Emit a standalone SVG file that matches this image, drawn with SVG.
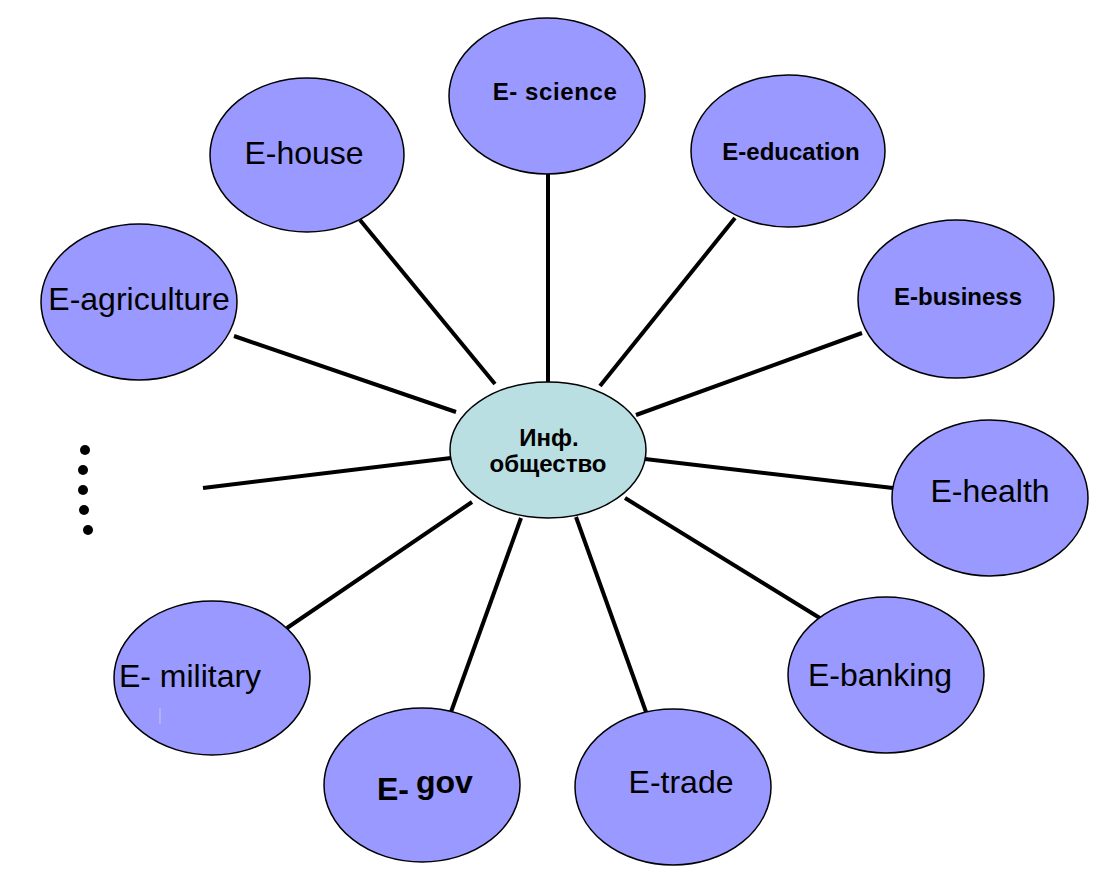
<svg xmlns="http://www.w3.org/2000/svg" width="1111" height="875" viewBox="0 0 1111 875">
<style>
.n{fill:#9999FF;stroke:#000;stroke-width:1.5}
.c{fill:#B9DFE3;stroke:#000;stroke-width:1.5}
.l{stroke:#000;stroke-width:4;stroke-linecap:butt}
.t{font-family:"Liberation Sans",Arial,sans-serif;font-size:32px;fill:#000;text-anchor:middle}
.b{font-family:"Liberation Sans",Arial,sans-serif;font-size:24px;font-weight:bold;fill:#000;text-anchor:middle}
.s{text-anchor:start;font-weight:bold}
</style>
<rect width="1111" height="875" fill="#fff"/>
<g id="connectors">
<line class="l" x1="548" y1="174" x2="548" y2="382"/>
<line class="l" x1="360" y1="220" x2="495" y2="384"/>
<line class="l" x1="735" y1="218" x2="600" y2="386"/>
<line class="l" x1="234" y1="336" x2="456" y2="412"/>
<line class="l" x1="862" y1="333" x2="636" y2="415"/>
<line class="l" x1="203" y1="488" x2="451" y2="458"/>
<line class="l" x1="645" y1="459" x2="893" y2="488"/>
<line class="l" x1="625" y1="498" x2="836" y2="628"/>
<line class="l" x1="576" y1="517" x2="646" y2="712"/>
<line class="l" x1="521" y1="518" x2="451" y2="712"/>
<line class="l" x1="472" y1="502" x2="287" y2="628"/>
</g>
<g id="dots" fill="#000">
<circle cx="85" cy="450" r="5"/>
<circle cx="83" cy="470" r="5"/>
<circle cx="83" cy="490" r="5"/>
<circle cx="84" cy="510" r="5"/>
<circle cx="88" cy="530" r="5"/>
</g>
<g id="center"><ellipse class="c" cx="548" cy="450" rx="98" ry="68"/>
<text class="b" x="549" y="446">Инф.</text>
<text class="b" x="548" y="472">общество</text></g>
<g id="e-science"><ellipse class="n" cx="547" cy="96" rx="98" ry="78"/>
<text class="b" x="555" y="100" letter-spacing="0.6">E- science</text></g>
<g id="e-house"><ellipse class="n" cx="307" cy="155" rx="97" ry="77"/>
<text class="t" x="304" y="164">E-house</text></g>
<g id="e-education"><ellipse class="n" cx="788" cy="151" rx="97" ry="76"/>
<text class="b" x="791" y="160" font-size="25">E-education</text></g>
<g id="e-agriculture"><ellipse class="n" cx="139" cy="302" rx="98" ry="78"/>
<text class="t" x="139" y="310" font-size="31">E-agriculture</text></g>
<g id="e-business"><ellipse class="n" cx="956" cy="299" rx="98" ry="79"/>
<text class="b" x="958" y="305" font-size="25">E-business</text></g>
<g id="e-health"><ellipse class="n" cx="990" cy="498" rx="98" ry="78"/>
<text class="t" x="990" y="502">E-health</text></g>
<g id="e-banking"><ellipse class="n" cx="886" cy="675" rx="98" ry="78"/>
<text class="t" x="880" y="686">E-banking</text></g>
<g id="e-trade"><ellipse class="n" cx="673" cy="787" rx="98" ry="78"/>
<text class="t" x="681" y="793">E-trade</text></g>
<g id="e-gov"><ellipse class="n" cx="422" cy="785" rx="98" ry="77"/>
<text class="t s" x="377" y="800">E-</text>
<text class="t s" x="416" y="793">gov</text></g>
<g id="e-military"><ellipse class="n" cx="212" cy="678" rx="98" ry="77"/>
<text class="t" x="190" y="687">E- military</text>
<line x1="160" y1="708" x2="160" y2="724" stroke="#c8c8e8" stroke-width="1"/></g>
</svg>
